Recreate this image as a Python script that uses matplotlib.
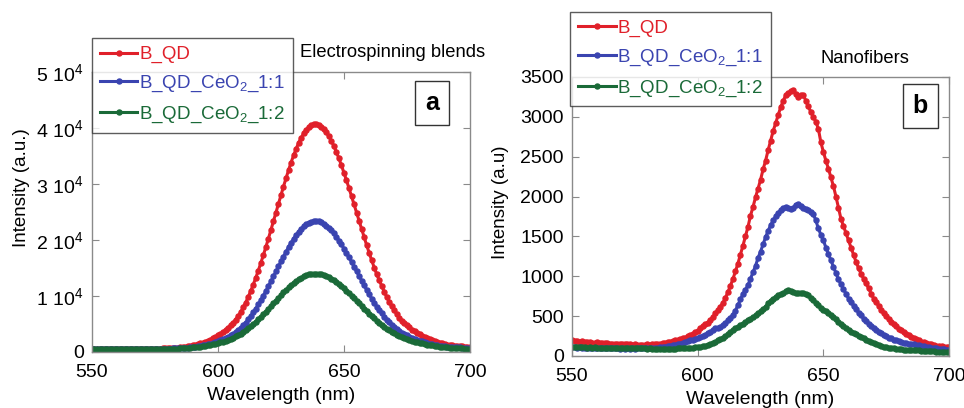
import matplotlib
matplotlib.use('Agg')
import matplotlib.pyplot as plt
import numpy as np

plt.rcParams['font.family'] = ['Liberation Sans', 'DejaVu Sans']
plt.rcParams['mathtext.fontset'] = 'custom'
plt.rcParams['mathtext.rm'] = 'Liberation Sans'
plt.rcParams['mathtext.it'] = 'Liberation Sans'
plt.rcParams['mathtext.default'] = 'regular'

# wavelength grid, 1 nm steps
wavelength = list(range(550, 701))

# panel a: electrospinning blends
blend_qd = [
    500, 500, 505, 505, 510, 510, 515, 515, 520, 520,
    525, 525, 530, 535, 540, 540, 545, 550, 550, 555,
    555, 560, 570, 580, 590, 600, 610, 620, 640, 660,
    680, 700, 730, 760, 800, 840, 890, 950, 1020, 1100,
    1200, 1310, 1430, 1540, 1670, 1850, 2020, 2220, 2450, 2710,
    2980, 3260, 3580, 3940, 4360, 4800, 5250, 5800, 6400, 7100,
    7950, 8830, 9820, 10890, 12030, 13240, 14520, 15860, 17260, 18720,
    20220, 21750, 23310, 24880, 26450, 28010, 29540, 31030, 32460, 33820,
    35090, 36260, 37320, 38250, 39040, 39690, 40180, 40510, 40680, 40680,
    40540, 40240, 39810, 39230, 38530, 37700, 36760, 35700, 34560, 33330,
    32030, 30670, 29260, 27820, 26360, 24880, 23410, 21940, 20500, 19080,
    17700, 16360, 15080, 13850, 12800, 11730, 10730, 9790, 8960, 8140,
    7440, 6760, 6140, 5600, 5200, 4790, 4380, 3990, 3710, 3440,
    3200, 2920, 2670, 2440, 2240, 2060, 1900, 1760, 1630, 1520,
    1410, 1320, 1240, 1180, 1130, 1080, 1040, 1000, 970, 940,
    910]
blend_ceo2_11 = [
    500, 500, 503, 503, 506, 506, 509, 509, 511, 511,
    514, 514, 517, 520, 523, 523, 526, 528, 528, 531,
    531, 534, 540, 546, 551, 557, 563, 568, 580, 591,
    603, 614, 631, 648, 671, 694, 722, 756, 796, 842,
    899, 961, 1030, 1092, 1167, 1269, 1366, 1480, 1611, 1759,
    1913, 2072, 2255, 2460, 2699, 2950, 3206, 3519, 3861, 4260,
    4744, 5246, 5810, 6419, 7069, 7758, 8487, 9251, 10048, 10880,
    11735, 12606, 13495, 14390, 15284, 16173, 17045, 17894, 18707, 19483,
    20206, 20873, 21476, 22006, 22457, 22827, 23106, 23294, 23390, 23390,
    23310, 23140, 22895, 22564, 22165, 21693, 21157, 20553, 19904, 19203,
    18463, 17688, 16884, 16064, 15232, 14389, 13552, 12714, 11894, 11085,
    10299, 9535, 8806, 8105, 7507, 6898, 6328, 5793, 5320, 4852,
    4454, 4066, 3713, 3405, 3178, 2944, 2710, 2488, 2329, 2175,
    2038, 1879, 1736, 1605, 1491, 1389, 1298, 1218, 1144, 1081,
    1018, 967, 922, 887, 859, 830, 808, 785, 768, 751,
    734]
blend_ceo2_12 = [
    500, 500, 502, 503, 505, 505, 507, 508, 510, 510,
    512, 513, 515, 516, 518, 520, 522, 524, 526, 528,
    530, 532, 535, 538, 541, 544, 547, 550, 555, 560,
    570, 580, 590, 600, 620, 640, 660, 690, 720, 760,
    810, 860, 920, 970, 1030, 1110, 1190, 1270, 1370, 1480,
    1600, 1720, 1860, 2010, 2180, 2370, 2560, 2790, 3030, 3300,
    3590, 3910, 4220, 4590, 4980, 5400, 5830, 6280, 6740, 7210,
    7700, 8190, 8690, 9180, 9680, 10160, 10630, 11090, 11530, 11940,
    12320, 12680, 12990, 13270, 13510, 13700, 13850, 13940, 13990, 13990,
    13950, 13860, 13730, 13560, 13350, 13100, 12820, 12500, 12150, 11780,
    11380, 10960, 10530, 10080, 9620, 9160, 8690, 8220, 7760, 7300,
    6850, 6410, 5980, 5570, 5210, 4840, 4490, 4170, 3870, 3580,
    3320, 3070, 2840, 2620, 2440, 2280, 2120, 1970, 1840, 1720,
    1620, 1520, 1430, 1330, 1240, 1160, 1090, 1030, 970, 920,
    880, 830, 800, 770, 740, 710, 680, 650, 620, 590,
    560]

# panel b: nanofibers
fiber_qd = [
    195, 190, 185, 180, 182, 175, 172, 170, 168, 165,
    170, 162, 160, 158, 162, 155, 150, 152, 150, 148,
    150, 145, 148, 145, 142, 145, 140, 143, 140, 142,
    145, 140, 145, 148, 150, 155, 160, 165, 170, 180,
    185, 195, 200, 210, 220, 230, 245, 260, 275, 295,
    315, 345, 380, 400, 420, 455, 490, 535, 575, 620,
    665, 730, 800, 880, 965, 1060, 1160, 1270, 1385, 1500,
    1620, 1760, 1870, 1990, 2100, 2210, 2340, 2450, 2580, 2700,
    2820, 2920, 3020, 3120, 3200, 3270, 3300, 3320, 3335, 3290,
    3250, 3275, 3280, 3200, 3130, 3060, 3000, 2940, 2850, 2680,
    2560, 2450, 2350, 2240, 2130, 2000, 1860, 1720, 1630, 1540,
    1450, 1360, 1270, 1180, 1100, 1030, 970, 910, 850, 780,
    720, 680, 630, 580, 540, 500, 460, 430, 400, 370,
    340, 320, 300, 280, 260, 240, 225, 210, 195, 180,
    170, 160, 150, 145, 135, 130, 125, 120, 115, 110,
    110]
fiber_ceo2_11 = [
    110, 108, 105, 108, 104, 102, 105, 100, 102, 98,
    100, 97, 99, 96, 98, 95, 97, 94, 96, 93,
    95, 92, 94, 92, 95, 93, 95, 94, 96, 95,
    97, 98, 100, 102, 105, 108, 112, 116, 120, 126,
    132, 140, 148, 156, 165, 175, 185, 195, 205, 215,
    225, 235, 245, 265, 290, 300, 320, 345, 350, 365,
    385, 410, 450, 480, 520, 570, 640, 710, 780, 830,
    890, 970, 1050, 1130, 1230, 1310, 1400, 1490, 1570, 1640,
    1700, 1750, 1790, 1830, 1860, 1870, 1860, 1850, 1860, 1900,
    1910, 1880, 1860, 1850, 1830, 1810, 1780, 1700, 1600, 1520,
    1450, 1360, 1280, 1200, 1120, 1040, 960, 900, 840, 780,
    720, 680, 630, 590, 545, 510, 470, 440, 405, 380,
    350, 330, 305, 285, 265, 245, 230, 220, 205, 195,
    185, 175, 168, 160, 155, 150, 145, 140, 135, 128,
    120, 115, 110, 105, 100, 95, 90, 86, 82, 78,
    75]
fiber_ceo2_12 = [
    115, 112, 110, 112, 108, 110, 106, 108, 105, 107,
    104, 106, 103, 105, 102, 104, 100, 102, 99, 101,
    98, 100, 97, 99, 96, 98, 95, 97, 94, 96,
    93, 95, 92, 90, 85, 82, 85, 88, 86, 88,
    90, 92, 94, 96, 98, 100, 102, 104, 106, 108,
    112, 116, 122, 130, 140, 152, 165, 180, 195, 210,
    230, 250, 272, 295, 320, 345, 365, 385, 405, 425,
    450, 470, 490, 510, 535, 560, 585, 620, 660, 695,
    720, 740, 760, 775, 790, 810, 825, 815, 800, 790,
    785, 790, 785, 780, 760, 730, 700, 670, 635, 600,
    575, 560, 540, 515, 490, 460, 430, 400, 375, 350,
    325, 305, 290, 275, 255, 235, 220, 205, 190, 178,
    165, 150, 138, 125, 118, 110, 105, 100, 95, 90,
    86, 84, 80, 78, 76, 74, 75, 72, 70, 68,
    66, 64, 62, 60, 58, 56, 55, 54, 54, 53,
    52]

labels = ['B_QD', 'B_QD_CeO$_2$_1:1', 'B_QD_CeO$_2$_1:2']
colors = ['#e0202a', '#3a44b0', '#1a6a38']

blend_ticks = [0, 10000, 20000, 30000, 40000, 50000]
blend_ticklabels = ['0', '1 10$^4$', '2 10$^4$', '3 10$^4$', '4 10$^4$', '5 10$^4$']
fiber_ticks = [0, 500, 1000, 1500, 2000, 2500, 3000, 3500]

fig = plt.figure(figsize=(9.64, 4.08), dpi=100)
ax1 = fig.add_axes([0.0954, 0.1373, 0.3921, 0.6863])
ax2 = fig.add_axes([0.5934, 0.1275, 0.3911, 0.6838])


def style(ax):
    for s in ax.spines.values():
        s.set_color('#8a8a8a')
        s.set_linewidth(1.0)
    ax.tick_params(direction='in', top=True, right=True, length=5,
                   color='#8a8a8a', labelsize=14, labelcolor='black', pad=6)
    ax.tick_params(axis='x', pad=9)
    ax.set_xlim(550, 700)
    ax.set_xticks([550, 600, 650, 700])
    ax.set_xlabel('Wavelength (nm)', fontsize=14, labelpad=4)


for ax, series in [(ax1, [blend_qd, blend_ceo2_11, blend_ceo2_12]),
                   (ax2, [fiber_qd, fiber_ceo2_11, fiber_ceo2_12])]:
    for ys, c, lab in zip(series, colors, labels):
        ax.plot(wavelength, ys, '-o', color=c, lw=2.2, ms=3.6, label=lab)
    style(ax)

ax1.set_ylim(0, 50000)
ax1.set_yticks(blend_ticks)
ax1.set_yticklabels(blend_ticklabels)
ax1.set_ylabel('Intensity (a.u.)', fontsize=13.5)
ax1.yaxis.set_label_coords(-0.165, 0.586)

ax2.set_ylim(0, 3500)
ax2.set_yticks(fiber_ticks)
ax2.set_ylabel('Intensity (a.u)', fontsize=13.5)
ax2.yaxis.set_label_coords(-0.168, 0.552)

ax1.text(0.796, 1.07, 'Electrospinning blends', transform=ax1.transAxes,
         ha='center', va='center', fontsize=13.2)
ax2.text(0.777, 1.065, 'Nanofibers', transform=ax2.transAxes,
         ha='center', va='center', fontsize=13.2)

for ax, letter, pos in [(ax1, 'a', (0.90, 0.888)), (ax2, 'b', (0.924, 0.896))]:
    ax.text(pos[0], pos[1], letter, transform=ax.transAxes, ha='center',
            va='center', fontsize=18, fontweight='bold',
            bbox=dict(boxstyle='square,pad=0.4', fc='white', ec='#333333', lw=1.0))

for ax, anchor in [(ax1, (0.0, 1.121)), (ax2, (-0.005, 1.233))]:
    leg = ax.legend(loc='upper left', bbox_to_anchor=anchor, borderaxespad=0,
                    fontsize=13.5, frameon=True, fancybox=False,
                    handlelength=2.0, handletextpad=0.1, labelspacing=0.55,
                    borderpad=0.42, markerscale=1.0)
    leg.get_frame().set_edgecolor('#333333')
    leg.get_frame().set_linewidth(1.0)
    for t, c in zip(leg.get_texts(), colors):
        t.set_color(c)

fig.savefig('out.png', dpi=100)
